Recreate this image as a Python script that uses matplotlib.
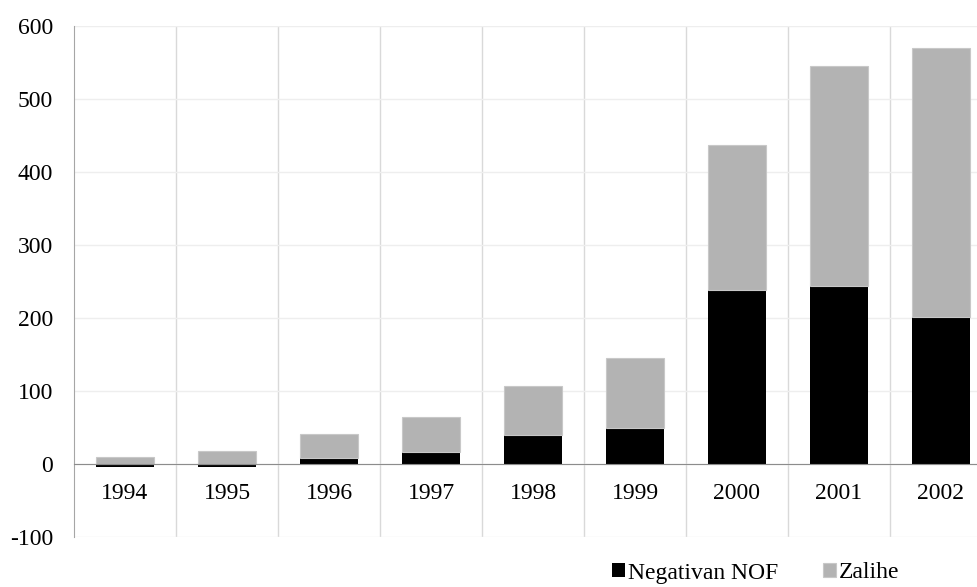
import numpy as np
import matplotlib.pyplot as plt

plt.rcParams['font.family'] = ['Liberation Serif', 'DejaVu Serif']

years = ['1994', '1995', '1996', '1997', '1998', '1999', '2000', '2001', '2002']
negativan_nof = [-4, -4, 8, 16, 40, 49, 238, 244, 201]
zalihe = [10, 18, 33, 49, 67, 96, 199, 301, 369]

ind = np.arange(len(years))
width = 0.57
fs = 17

# gray part stacks on top of positive black part; negative black hangs below zero
bottoms = [max(v, 0) for v in negativan_nof]

fig = plt.figure(figsize=(9.77, 5.87), dpi=100)
# axes runs slightly past the right edge, like the cropped original
ax = fig.add_axes([74 / 977, (587 - 537) / 587, 918 / 977, (537 - 26) / 587])

# spine position first: it resets the ticks
for s in ['top', 'right']:
    ax.spines[s].set_visible(False)
ax.spines['bottom'].set_position(('data', 0))
ax.spines['bottom'].set_color('#8c8c8c')
ax.spines['bottom'].set_zorder(4)
ax.spines['left'].set_color('#a6a6a6')

p1 = ax.bar(ind, negativan_nof, width, color='black', zorder=3)
p2 = ax.bar(ind, zalihe, width, bottom=bottoms, color='#b3b3b3',
            edgecolor='#c8c8c8', linewidth=0.8, zorder=3)

ax.set_xlim(-0.5, len(years) - 0.5)
ax.set_ylim(-100, 600)
ax.set_yticks(np.arange(-100, 601, 100))
ax.set_yticklabels([str(v) for v in range(-100, 601, 100)])
ax.set_xticks(ind)
ax.set_xticklabels(years)
ax.set_xticks(np.arange(-0.5, len(years), 1)[1:], minor=True)
ax.tick_params(axis='y', length=0, pad=15, labelsize=fs)
ax.tick_params(axis='x', which='both', length=0, pad=14, labelsize=fs)

ax.grid(axis='y', color='#eeeeee', linewidth=1, zorder=0)
ax.grid(axis='x', which='minor', color='#d9d9d9', linewidth=1, zorder=0)

fig.legend((p1[0], p2[0]), ('Negativan NOF', 'Zalihe'), loc='center',
           bbox_to_anchor=(756 / 977, 1 - 573 / 587), ncol=2, frameon=False,
           fontsize=fs, handlelength=0.55, handleheight=0.55, handletextpad=0.12,
           columnspacing=1.9)

fig.savefig('out.png', dpi=100)
